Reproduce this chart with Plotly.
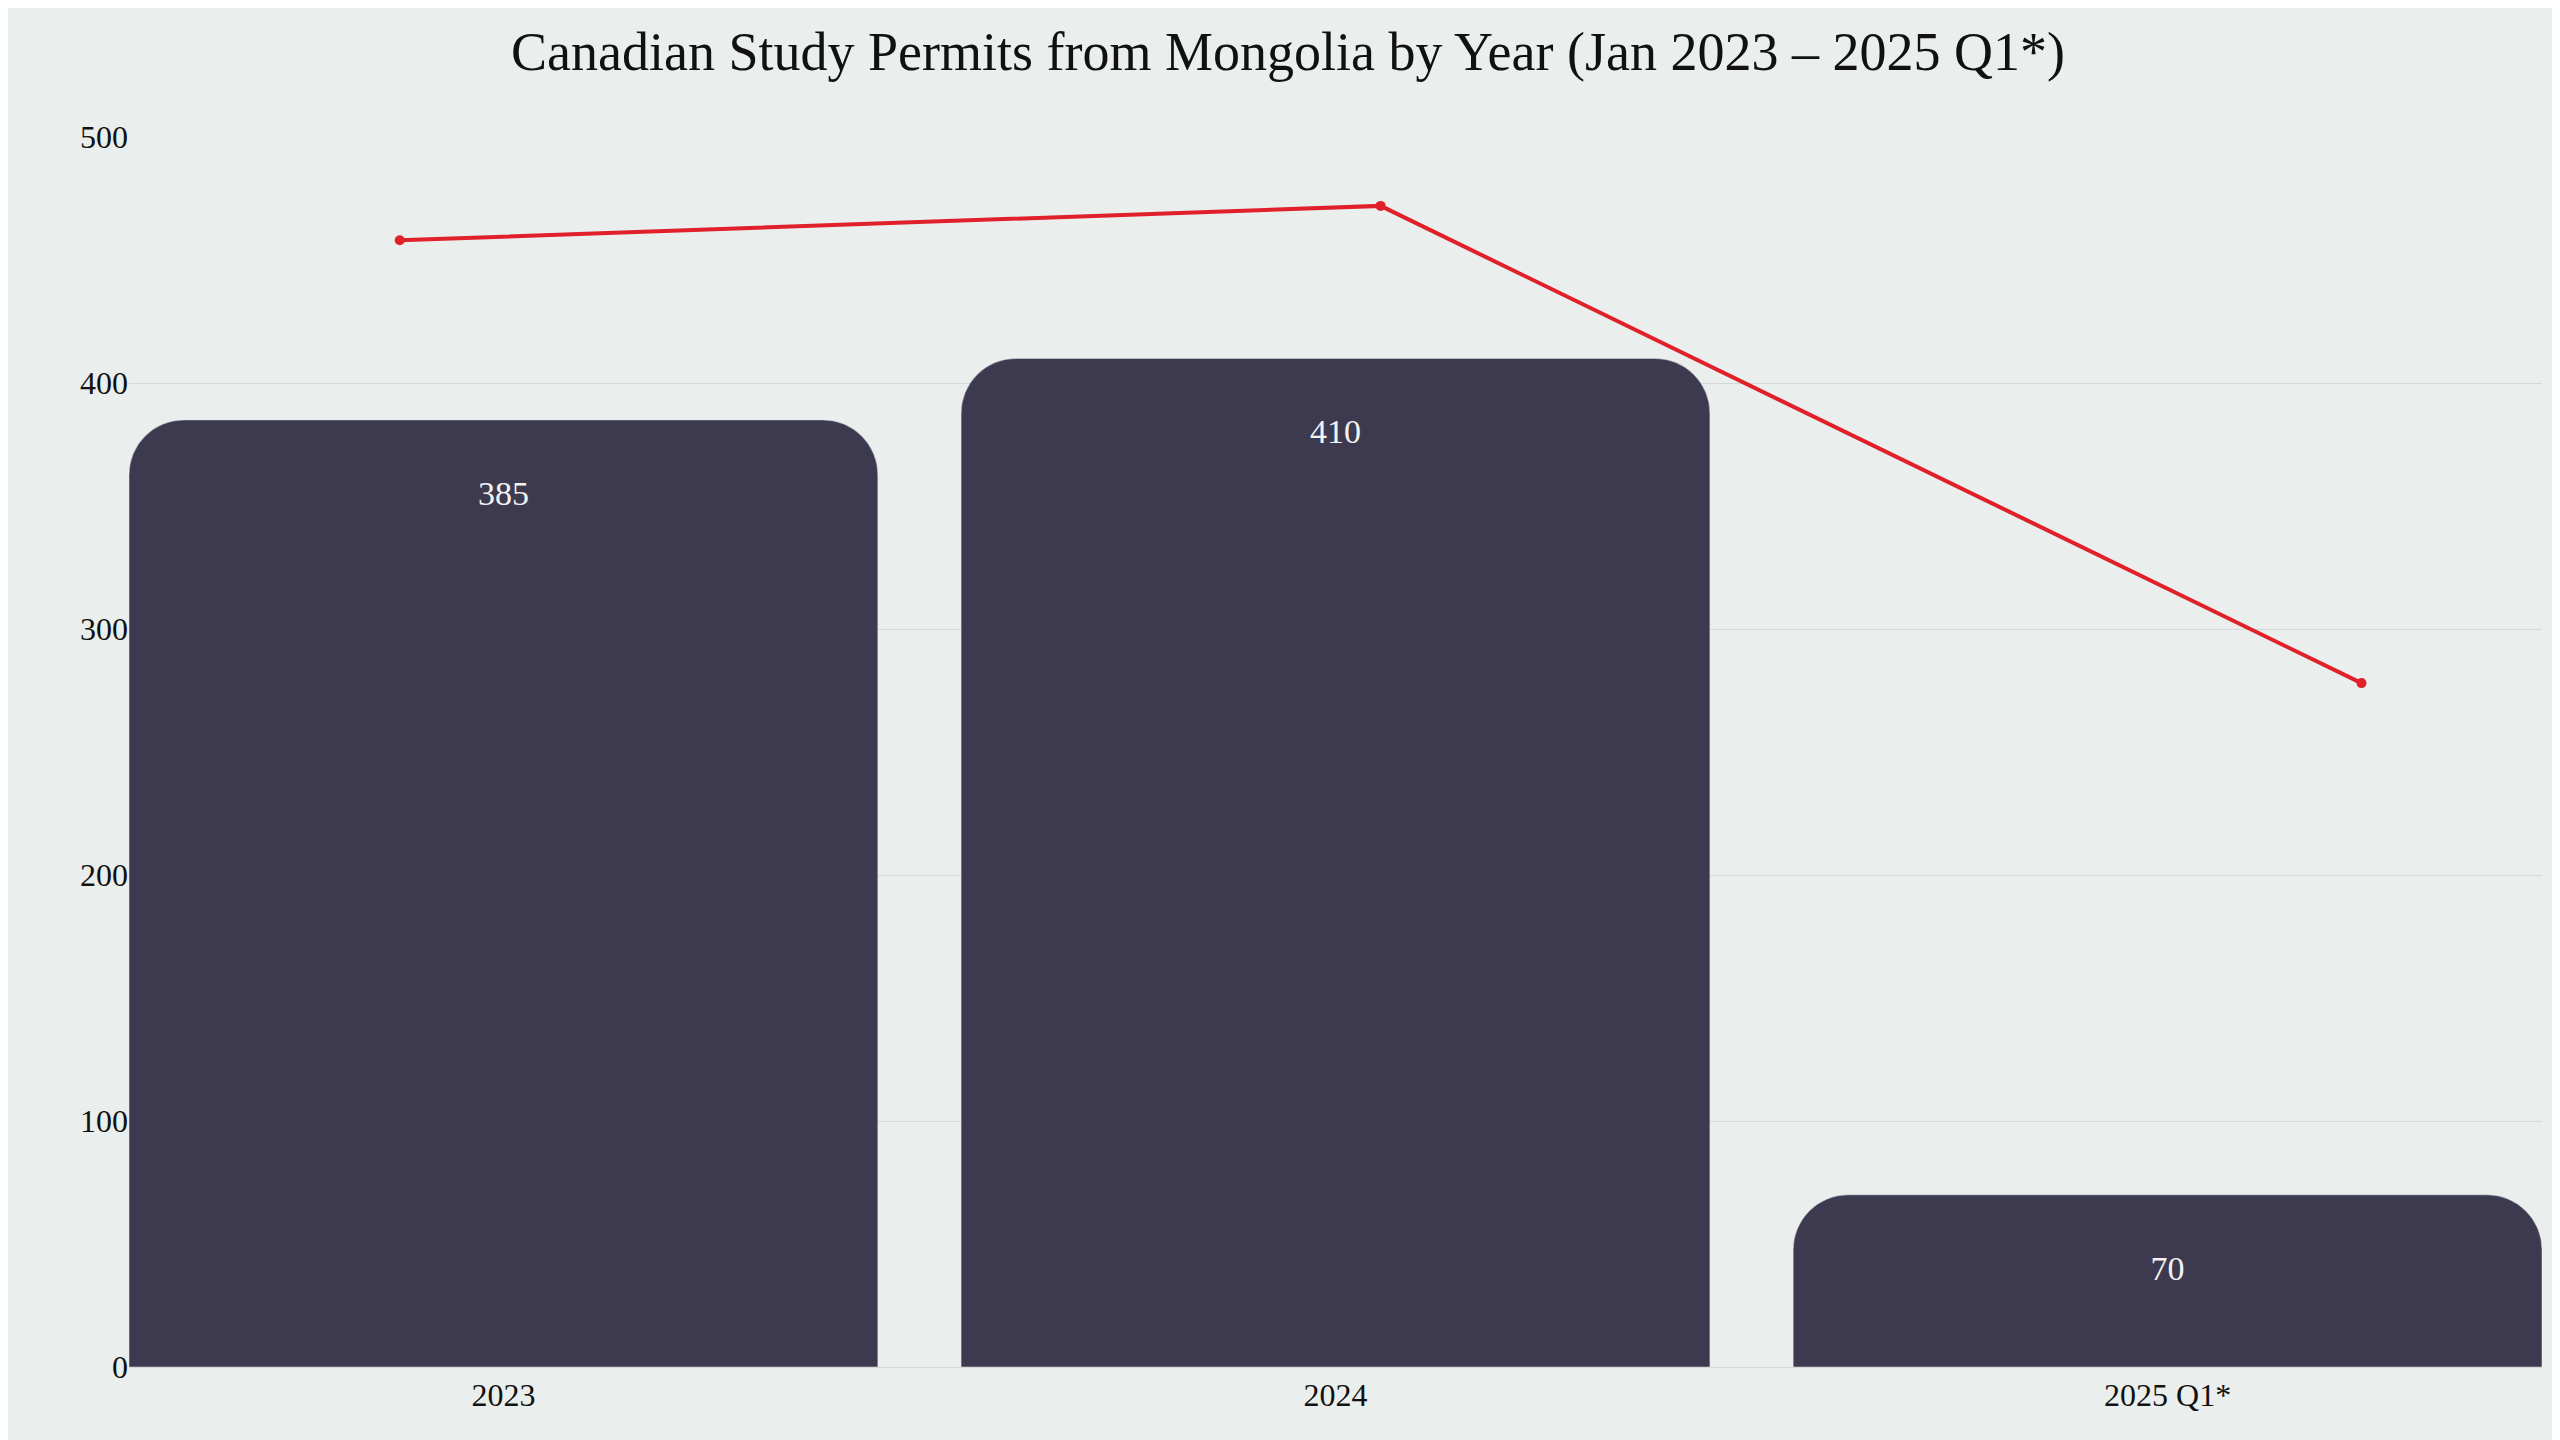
import plotly.graph_objects as go

categories = ["2023", "2024", "2025 Q1*"]
bar_values = [385, 410, 70]
line_values = [458, 472, 278]

font = "Liberation Serif, DejaVu Serif, serif"
fig = go.Figure()
fig.add_trace(go.Bar(x=categories, y=bar_values, marker_color="#3D3A50", width=0.9,
                     text=[str(v) for v in bar_values], textposition="inside",
                     insidetextanchor="end", textfont=dict(color="#F2F2F2", size=34, family=font),
                     showlegend=False))
fig.add_trace(go.Scatter(x=categories, y=line_values, xaxis="x2", mode="lines+markers",
                         line=dict(color="#E0202A", width=4), marker=dict(size=10, color="#E0202A"),
                         showlegend=False))
fig.update_layout(
    width=2560, height=1440, paper_bgcolor="#EAEEEC", plot_bgcolor="#EAEEEC",
    margin=dict(l=121, r=26, t=129, b=81),
    barcornerradius=55,
    font=dict(family=font, color="#111111", size=32),
    title=dict(text="Canadian Study Permits from Mongolia by Year (Jan 2023 \u2013 2025 Q1*)",
               x=0.5, xanchor="center", y=0.97, yanchor="middle", font=dict(size=54)),
    xaxis=dict(type="category", range=[-0.45, 2.45], showgrid=False, showline=True,
               linecolor="#D5D8D6", ticks=""),
    xaxis2=dict(type="category", overlaying="x", range=[-0.276, 2.184], visible=False),
    yaxis=dict(range=[0, 500], dtick=100, gridcolor="#D5D8D6", zeroline=False, ticks=""),
)
fig.write_html("out.html")
